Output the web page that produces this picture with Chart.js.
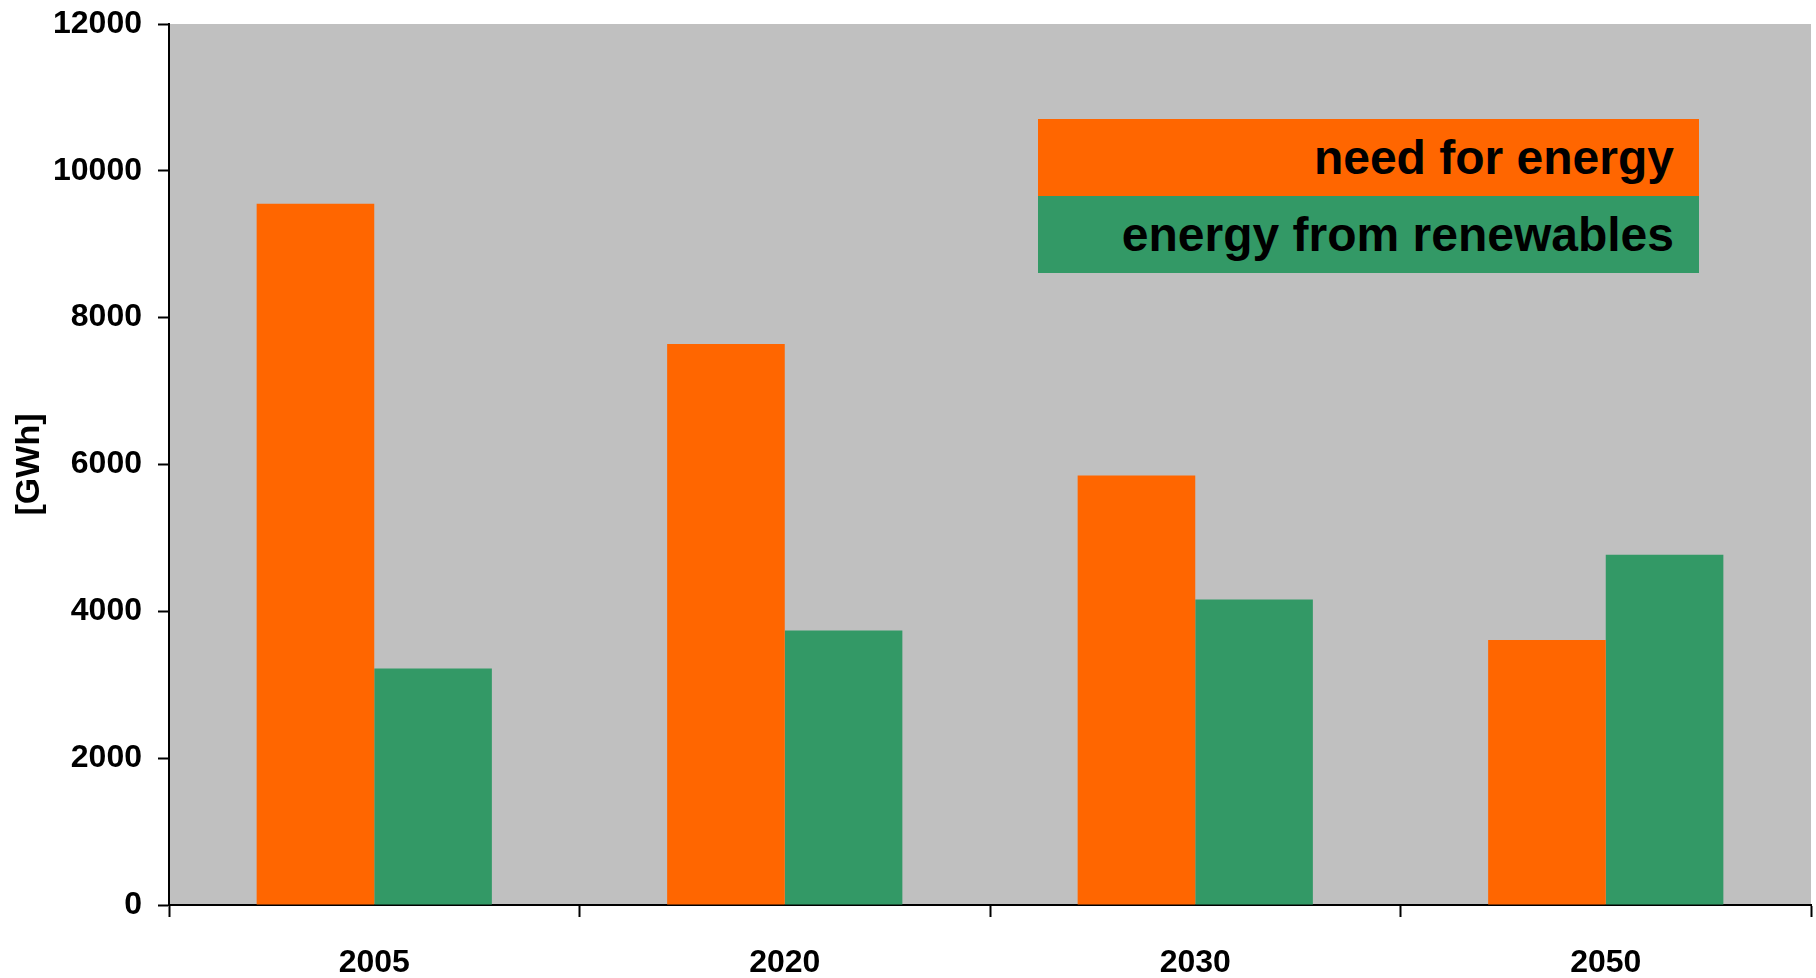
<!DOCTYPE html>
<html>
<head>
<meta charset="utf-8">
<title>Energy need and renewables</title>
<script src="https://cdn.jsdelivr.net/npm/chart.js@4.4.1/dist/chart.umd.min.js"></script>
<style>
    html, body { margin: 0; padding: 0; background: #fff; }
    #wrap { position: relative; width: 1816px; height: 978px; }
    #legend { position: absolute; left: 1038px; top: 119px; width: 661px; }
    .legend-row {
        height: 77px;
        line-height: 77px;
        text-align: right;
        padding-right: 25px;
        font-family: "Liberation Sans", Arial, sans-serif;
        font-weight: bold;
        font-size: 48px;
        color: #000;
        box-sizing: border-box;
    }
</style>
</head>
<body>
<div id="wrap">
    <canvas id="energyChart" width="1816" height="978"></canvas>
    <div id="legend"></div>
</div>
<script>
// Chart data
const years = ["2005", "2020", "2030", "2050"];
const needForEnergy = [9550, 7640, 5850, 3610];
const fromRenewables = [3220, 3740, 4160, 4770];
const yTicks = [0, 2000, 4000, 6000, 8000, 10000, 12000];

const fontFamily = '"Liberation Sans", Arial, sans-serif';

// Grey plot background
const plotBackground = {
    id: "plotBackground",
    beforeDraw(chart) {
        const { ctx, chartArea } = chart;
        ctx.save();
        ctx.fillStyle = "#C0C0C0";
        ctx.fillRect(chartArea.left, chartArea.top, chartArea.right - chartArea.left, chartArea.bottom - chartArea.top);
        ctx.restore();
    }
};

let chart = new Chart(document.getElementById("energyChart").getContext("2d"), {
    type: "bar",
    data: {
        labels: years,
        datasets: [
            {
                label: "need for energy",
                data: needForEnergy,
                backgroundColor: "#FF6600",
                categoryPercentage: 0.573,
                barPercentage: 1.0
            },
            {
                label: "energy from renewables",
                data: fromRenewables,
                backgroundColor: "#339966",
                categoryPercentage: 0.573,
                barPercentage: 1.0
            }
        ]
    },
    options: {
        responsive: false,
        animation: false,
        layout: { padding: { top: 24, right: 5, left: 0, bottom: 0 } },
        plugins: {
            legend: { display: false },
            tooltip: { enabled: false }
        },
        scales: {
            x: {
                offset: true,
                grid: {
                    offset: true,
                    drawOnChartArea: false,
                    drawTicks: true,
                    tickLength: 12,
                    tickWidth: 2,
                    tickColor: "#000"
                },
                border: { color: "#000", width: 2 },
                ticks: {
                    color: "#000",
                    padding: 27,
                    font: { family: fontFamily, weight: "bold", size: 32 }
                },
                afterFit(scale) { scale.height = 73; }
            },
            y: {
                min: 0,
                max: 12000,
                afterBuildTicks(scale) {
                    scale.ticks = yTicks.map(v => ({ value: v }));
                },
                grid: {
                    drawOnChartArea: false,
                    drawTicks: true,
                    tickLength: 11,
                    tickWidth: 2,
                    tickColor: "#000"
                },
                border: { color: "#000", width: 2 },
                ticks: {
                    color: "#000",
                    padding: 16,
                    font: { family: fontFamily, weight: "bold", size: 32 },
                    callback: value => String(value)
                },
                title: {
                    display: true,
                    text: "[GWh]",
                    color: "#000",
                    padding: { top: 9, bottom: 0 },
                    font: { family: fontFamily, weight: "bold", size: 34 }
                },
                afterFit(scale) {
                    scale.width = 169;
                    // keep the plot top fixed by the layout padding only
                    scale.paddingTop = 0;
                    scale.paddingBottom = 0;
                }
            }
        }
    },
    plugins: [plotBackground]
});

// Legend boxes built from the datasets
const legend = document.getElementById("legend");
chart.data.datasets.forEach(ds => {
    const row = document.createElement("div");
    row.className = "legend-row";
    row.style.background = ds.backgroundColor;
    row.textContent = ds.label;
    legend.appendChild(row);
});
</script>
</body>
</html>
